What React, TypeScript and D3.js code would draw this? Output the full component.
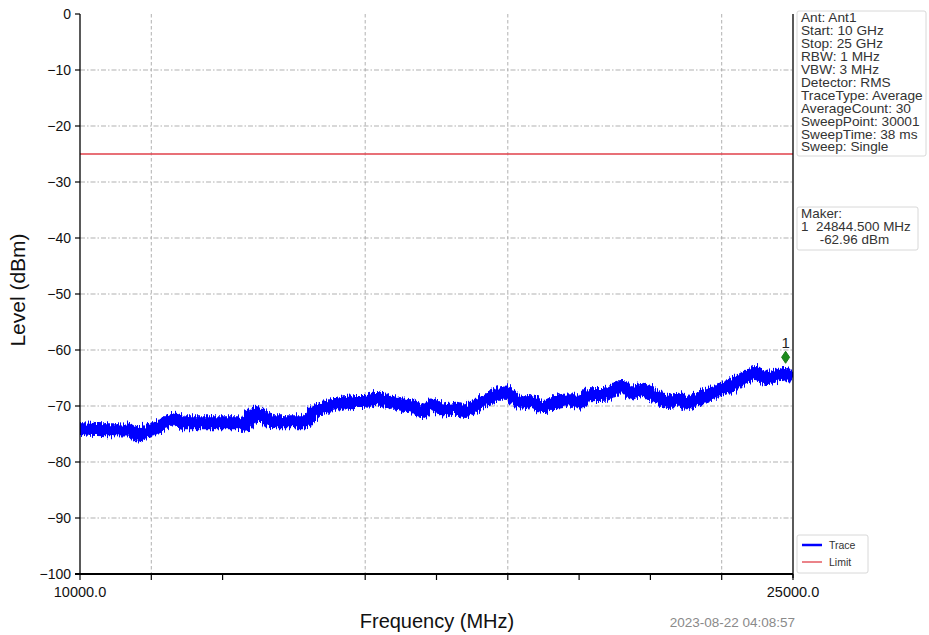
import * as d3 from "d3"

// trace centre level (MHz, dBm)
const traceFreqs = [
  10000, 10380, 11010, 11220, 11470, 11680, 11850, 12000, 12130, 12740, 13320, 13470, 13680, 13830,
  14100, 14730, 14940, 15220, 15510, 15790, 16000, 16210, 16480, 16770, 17050, 17200, 17400, 17640,
  17930, 18060, 18350, 18630, 18900, 19110, 19260, 19470, 19740, 20040, 20310, 20520, 20690, 21050,
  21400, 21610, 21820, 22100, 22370, 22580, 22730, 22940, 23210, 23510, 23840, 24200, 24470, 24770,
  25000,
]
const traceLevels = [
  -74.0, -74.2, -74.3, -75.2, -74.3, -73.7, -72.8, -72.2, -73.0, -73.0, -73.0, -73.6, -71.3, -72.0,
  -72.8, -72.8, -71.0, -70.1, -69.5, -69.2, -69.2, -68.6, -69.2, -69.8, -70.1, -71.0, -69.8, -70.7,
  -70.4, -71.0, -69.8, -68.6, -67.7, -68.3, -69.5, -69.2, -70.1, -69.2, -68.9, -69.5, -68.0, -67.9,
  -66.5, -67.7, -67.1, -68.3, -69.2, -68.6, -69.5, -68.9, -68.0, -67.1, -65.7, -64.2, -65.1, -64.2,
  -64.8,
]

const limitLevel = -25
const yTicks = [0, -10, -20, -30, -40, -50, -60, -70, -80, -90, -100]
const xTickLabels = [10000, 25000]
const xMinorTicks = [11500, 13000, 16000, 17500, 19000, 20500, 22000, 23500]
const xGridFreqs = [11500, 16000, 19000, 23500]

const markerFreq = 24844.5
const markerPlotLevel = -61.3
const markerLabel = ["Maker:", "1  24844.500 MHz", "     -62.96 dBm"]

const infoLines = [
  "Ant: Ant1",
  "Start: 10 GHz",
  "Stop: 25 GHz",
  "RBW: 1 MHz",
  "VBW: 3 MHz",
  "Detector: RMS",
  "TraceType: Average",
  "AverageCount: 30",
  "SweepPoint: 30001",
  "SweepTime: 38 ms",
  "Sweep: Single",
]
const legendItems = [
  { name: "Trace", color: "#0000ff" },
  { name: "Limit", color: "#e0404a" },
]
const timestamp = "2023-08-22 04:08:57"

const W = 929
const H = 635
const FONT = "'Liberation Sans', Arial, sans-serif"

export default function App() {
  const left = 80
  const right = 793
  const top = 14
  const bottom = 574

  const x = d3.scaleLinear().domain([10000, 25000]).range([left, right])
  const y = d3.scaleLinear().domain([0, -100]).range([top, bottom])

  const pts = traceFreqs.map((f, i) => [f, traceLevels[i]] as [number, number])
  const line = d3
    .line<[number, number]>()
    .x((d) => x(d[0]))
    .y((d) => y(d[1]))
    .curve(d3.curveMonotoneX)

  const fmtY = (v: number) => (v < 0 ? "\u2212" + Math.abs(v) : String(v))

  const mx = x(markerFreq)
  const my = y(markerPlotLevel)

  return (
    <div style={{ position: "absolute", left: 0, top: 0 }}>
      <svg width={W} height={H} style={{ display: "block", background: "#fff" }} fontFamily={FONT}>
        <defs>
          <clipPath id="plot">
            <rect x={left} y={top} width={right - left} height={bottom - top} />
          </clipPath>
          <filter id="noise" x="-2%" y="-60%" width="104%" height="220%">
            <feTurbulence type="fractalNoise" baseFrequency="0.8 0.05" numOctaves={2} seed={4} result="t" />
            <feDisplacementMap in="SourceGraphic" in2="t" scale={11} xChannelSelector="A" yChannelSelector="G" />
          </filter>
        </defs>

        {/* grid */}
        {yTicks.slice(1, -1).map((v) => (
          <line
            key={"gy" + v}
            x1={left}
            x2={right}
            y1={y(v)}
            y2={y(v)}
            stroke="#a8a8a8"
            strokeWidth={0.9}
            strokeDasharray="5,2,1.5,2"
          />
        ))}
        {xGridFreqs.map((f) => (
          <line
            key={"gx" + f}
            x1={x(f)}
            x2={x(f)}
            y1={top}
            y2={bottom}
            stroke="#a8a8a8"
            strokeWidth={0.9}
            strokeDasharray="3.5,2.5"
          />
        ))}

        {/* limit */}
        <line x1={left} x2={right} y1={y(limitLevel)} y2={y(limitLevel)} stroke="#e0404a" strokeWidth={1.3} />

        {/* trace */}
        <g clipPath="url(#plot)">
          <path
            d={line(pts) || ""}
            fill="none"
            stroke="#0000ff"
            strokeWidth={13}
            strokeLinejoin="round"
            filter="url(#noise)"
          />
        </g>

        {/* marker */}
        <path
          d={`M${mx},${my - 6} L${mx + 4},${my} L${mx},${my + 6} L${mx - 4},${my} Z`}
          fill="#1a8a1a"
          stroke="#1a7a1a"
          strokeWidth={1}
        />
        <text x={mx} y={my - 9} fontSize={15} textAnchor="middle" fill="#222">
          1
        </text>

        {/* axes */}
        <line x1={left} x2={left} y1={top} y2={bottom} stroke="#000" strokeWidth={1.3} />
        <line x1={right} x2={right} y1={top} y2={bottom + 4} stroke="#000" strokeWidth={1.3} />
        <line x1={left - 5} x2={right} y1={bottom} y2={bottom} stroke="#000" strokeWidth={2} />
        {yTicks.map((v) => (
          <g key={"ty" + v}>
            <line x1={left - 5} x2={left} y1={y(v)} y2={y(v)} stroke="#000" strokeWidth={1.2} />
            <text x={left - 9} y={y(v)} dy="0.35em" fontSize={14} textAnchor="end" fill="#111">
              {fmtY(v)}
            </text>
          </g>
        ))}
        {[...xMinorTicks, ...xTickLabels].map((f) => (
          <line key={"tx" + f} x1={x(f)} x2={x(f)} y1={bottom} y2={bottom + 6} stroke="#000" strokeWidth={1.2} />
        ))}
        {xTickLabels.map((f) => (
          <text key={"lx" + f} x={x(f)} y={bottom + 23} fontSize={14.5} textAnchor="middle" fill="#111">
            {f.toFixed(1)}
          </text>
        ))}

        <text x={437} y={628} fontSize={20} textAnchor="middle" fill="#111">
          Frequency (MHz)
        </text>
        <text
          transform={`translate(25,${(top + bottom) / 2 - 4}) rotate(-90)`}
          fontSize={21}
          textAnchor="middle"
          fill="#111"
        >
          Level (dBm)
        </text>
        <text x={795} y={627} fontSize={13.5} textAnchor="end" fill="#8a8a8a">
          {timestamp}
        </text>

        {/* info box */}
        <rect x={797} y={11} width={129} height={145} rx={2} fill="#fff" stroke="#d8d8d8" />
        <g transform="translate(801,0) scale(1.14,1)">
          {infoLines.map((t, i) => (
            <text key={t} x={0} y={22.5 + i * 12.9} fontSize={12} fill="#333">
              {t}
            </text>
          ))}
        </g>

        {/* marker box */}
        <rect x={797} y={207} width={121} height={43} rx={2} fill="#fff" stroke="#d8d8d8" />
        <g transform="translate(801,0) scale(1.12,1)">
          {markerLabel.map((t, i) => (
            <text key={i} x={0} y={218 + i * 13} fontSize={12} fill="#333" style={{ whiteSpace: "pre" }}>
              {t}
            </text>
          ))}
        </g>

        {/* legend */}
        <rect x={797} y={535} width={71} height={38} rx={2} fill="#fff" stroke="#d8d8d8" />
        {legendItems.map((d, i) => (
          <g key={d.name}>
            <line
              x1={802}
              x2={822}
              y1={545 + i * 17}
              y2={545 + i * 17}
              stroke={d.color}
              strokeWidth={i === 0 ? 2.5 : 1.3}
            />
            <text x={829} y={545 + i * 17} dy="0.35em" fontSize={10.5} fill="#333">
              {d.name}
            </text>
          </g>
        ))}
      </svg>
    </div>
  )
}
